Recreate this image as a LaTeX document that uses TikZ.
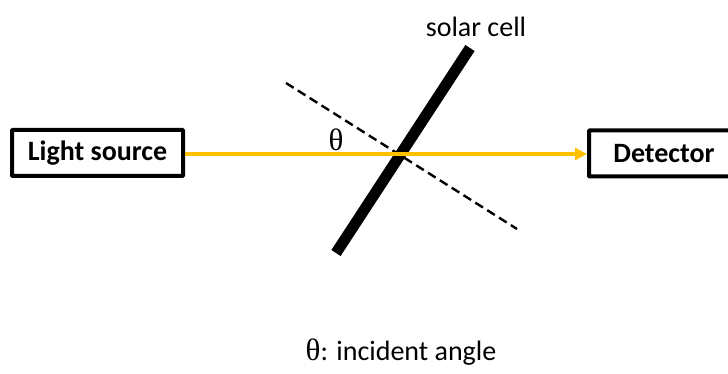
\documentclass[tikz,border=0pt]{standalone}
\usepackage{fontspec}
\setmainfont{Carlito}
\newfontfamily\thetafont{Liberation Serif}
\usetikzlibrary{arrows.meta}
\definecolor{beam}{HTML}{FFC000}
\tikzset{
  boxnode/.style={draw=black,line width=4pt,fill=white,rounded corners=0.8pt,inner sep=0pt,font=\fontsize{28}{32}\selectfont\bfseries},
  plain/.style={inner sep=0pt,font=\fontsize{28}{32}\selectfont},
  cell/.style={line width=11pt,black},
  normalline/.style={line width=2.4pt,black,dash pattern=on 9pt off 5pt},
  beamline/.style={line width=3.6pt,beam,-{Triangle[length=12pt,width=12pt]}}
}
\begin{document}
\begin{tikzpicture}[x=1pt,y=-1pt]
\useasboundingbox (0,0) rectangle (728,374);
\fill[white] (0,0) rectangle (728,374);
\begin{scope}
\clip (0,0) rectangle (728,374);
\node[boxnode,minimum width=171pt,minimum height=46pt] (src) at (97.5,153) {Light source};
\node[boxnode,minimum width=150pt,minimum height=46pt] (det) at (664,153.5) {Detector};
\end{scope}
\coordinate (cellA) at (470,48);
\coordinate (cellB) at (336,253);
\coordinate (normA) at (286,83);
\coordinate (normB) at (517,229);
\draw[normalline] (normA) -- (normB);
\draw[cell] (cellA) -- (cellB);
\draw[beamline] (src.east |- 0,154) -- (det.west |- 0,154);
\node[plain] (lbl) at (476,27) {solar cell};
\node[plain,font=\fontsize{31}{34}\selectfont] (th) at (336,140) {\thetafont θ};
\node[plain] (cap) at (401,352) {{\fontsize{31}{34}\selectfont\thetafont θ}: incident angle};
\end{tikzpicture}
\end{document}
